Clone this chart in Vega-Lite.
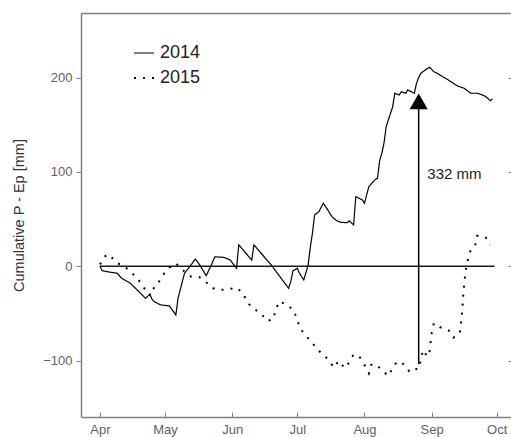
{
  "$schema": "https://vega.github.io/schema/vega-lite/v6.json",
  "width": 430,
  "height": 404,
  "autosize": "none",
  "padding": {"left": 81, "top": 13, "right": 0, "bottom": 20},
  "background": "white",
  "config": {
    "view": {"stroke": null},
    "font": "Liberation Sans",
    "axis": {"grid": false, "labelFont": "Liberation Sans", "titleFont": "Liberation Sans", "domainColor": "#808080", "domainWidth": 1.5, "tickColor": "#808080", "labelColor": "#5f5f5f", "labelFontSize": 13}
  },
  "datasets": {
    "series": [
      {"year": "2014", "date": "2014-04-01", "v": 0},
      {"year": "2014", "date": "2014-04-02", "v": -4.7},
      {"year": "2014", "date": "2014-04-06", "v": -6.4},
      {"year": "2014", "date": "2014-04-09", "v": -7.4},
      {"year": "2014", "date": "2014-04-11", "v": -12.7},
      {"year": "2014", "date": "2014-04-15", "v": -18},
      {"year": "2014", "date": "2014-04-19", "v": -27},
      {"year": "2014", "date": "2014-04-22", "v": -34},
      {"year": "2014", "date": "2014-04-24", "v": -29.7},
      {"year": "2014", "date": "2014-04-25", "v": -35},
      {"year": "2014", "date": "2014-04-26", "v": -37.5},
      {"year": "2014", "date": "2014-04-29", "v": -41},
      {"year": "2014", "date": "2014-05-03", "v": -42},
      {"year": "2014", "date": "2014-05-06", "v": -51.6},
      {"year": "2014", "date": "2014-05-07", "v": -34},
      {"year": "2014", "date": "2014-05-08", "v": -25},
      {"year": "2014", "date": "2014-05-10", "v": -7.4},
      {"year": "2014", "date": "2014-05-13", "v": 1.4},
      {"year": "2014", "date": "2014-05-15", "v": 7.7},
      {"year": "2014", "date": "2014-05-17", "v": 1.4},
      {"year": "2014", "date": "2014-05-20", "v": -10},
      {"year": "2014", "date": "2014-05-22", "v": -0.4},
      {"year": "2014", "date": "2014-05-24", "v": 10},
      {"year": "2014", "date": "2014-05-28", "v": 9.5},
      {"year": "2014", "date": "2014-05-31", "v": 6.7},
      {"year": "2014", "date": "2014-06-03", "v": -2.1},
      {"year": "2014", "date": "2014-06-04", "v": 22.6},
      {"year": "2014", "date": "2014-06-08", "v": 12},
      {"year": "2014", "date": "2014-06-10", "v": 6.5},
      {"year": "2014", "date": "2014-06-11", "v": 22.6},
      {"year": "2014", "date": "2014-06-15", "v": 12},
      {"year": "2014", "date": "2014-06-19", "v": 1.4},
      {"year": "2014", "date": "2014-06-23", "v": -11},
      {"year": "2014", "date": "2014-06-27", "v": -23.3},
      {"year": "2014", "date": "2014-06-28", "v": -16.3},
      {"year": "2014", "date": "2014-06-29", "v": -5},
      {"year": "2014", "date": "2014-07-01", "v": -2.1},
      {"year": "2014", "date": "2014-07-02", "v": -7.4},
      {"year": "2014", "date": "2014-07-04", "v": -14.5},
      {"year": "2014", "date": "2014-07-06", "v": 1},
      {"year": "2014", "date": "2014-07-07", "v": 20},
      {"year": "2014", "date": "2014-07-08", "v": 35},
      {"year": "2014", "date": "2014-07-09", "v": 54.4},
      {"year": "2014", "date": "2014-07-11", "v": 58},
      {"year": "2014", "date": "2014-07-13", "v": 66.8},
      {"year": "2014", "date": "2014-07-15", "v": 60},
      {"year": "2014", "date": "2014-07-17", "v": 52.6},
      {"year": "2014", "date": "2014-07-19", "v": 48.5},
      {"year": "2014", "date": "2014-07-21", "v": 46.6},
      {"year": "2014", "date": "2014-07-24", "v": 46.2},
      {"year": "2014", "date": "2014-07-25", "v": 48},
      {"year": "2014", "date": "2014-07-27", "v": 43.8},
      {"year": "2014", "date": "2014-07-28", "v": 73.8},
      {"year": "2014", "date": "2014-07-30", "v": 71.5},
      {"year": "2014", "date": "2014-07-31", "v": 70.3},
      {"year": "2014", "date": "2014-08-01", "v": 66.8},
      {"year": "2014", "date": "2014-08-03", "v": 84.4},
      {"year": "2014", "date": "2014-08-05", "v": 89.7},
      {"year": "2014", "date": "2014-08-06", "v": 92},
      {"year": "2014", "date": "2014-08-07", "v": 93.3},
      {"year": "2014", "date": "2014-08-08", "v": 112},
      {"year": "2014", "date": "2014-08-09", "v": 119.8},
      {"year": "2014", "date": "2014-08-10", "v": 130.4},
      {"year": "2014", "date": "2014-08-11", "v": 148},
      {"year": "2014", "date": "2014-08-12", "v": 155},
      {"year": "2014", "date": "2014-08-14", "v": 169},
      {"year": "2014", "date": "2014-08-15", "v": 183.4},
      {"year": "2014", "date": "2014-08-17", "v": 181.6},
      {"year": "2014", "date": "2014-08-18", "v": 185},
      {"year": "2014", "date": "2014-08-20", "v": 183.4},
      {"year": "2014", "date": "2014-08-21", "v": 187},
      {"year": "2014", "date": "2014-08-23", "v": 184.5},
      {"year": "2014", "date": "2014-08-24", "v": 183.4},
      {"year": "2014", "date": "2014-08-25", "v": 194},
      {"year": "2014", "date": "2014-08-26", "v": 200},
      {"year": "2014", "date": "2014-08-27", "v": 204.6},
      {"year": "2014", "date": "2014-08-29", "v": 208},
      {"year": "2014", "date": "2014-08-31", "v": 211},
      {"year": "2014", "date": "2014-09-02", "v": 206.3},
      {"year": "2014", "date": "2014-09-04", "v": 204},
      {"year": "2014", "date": "2014-09-06", "v": 201},
      {"year": "2014", "date": "2014-09-09", "v": 197},
      {"year": "2014", "date": "2014-09-11", "v": 194},
      {"year": "2014", "date": "2014-09-13", "v": 191},
      {"year": "2014", "date": "2014-09-16", "v": 188.7},
      {"year": "2014", "date": "2014-09-19", "v": 183.4},
      {"year": "2014", "date": "2014-09-22", "v": 183.4},
      {"year": "2014", "date": "2014-09-24", "v": 182},
      {"year": "2014", "date": "2014-09-26", "v": 179.8},
      {"year": "2014", "date": "2014-09-28", "v": 175.6},
      {"year": "2014", "date": "2014-09-29", "v": 177.4},
      {"year": "2015", "date": "2015-04-01", "v": 2},
      {"year": "2015", "date": "2015-04-03", "v": 10},
      {"year": "2015", "date": "2015-04-05", "v": 12.7},
      {"year": "2015", "date": "2015-04-09", "v": 3.2},
      {"year": "2015", "date": "2015-04-12", "v": 0.6},
      {"year": "2015", "date": "2015-04-15", "v": -5.7},
      {"year": "2015", "date": "2015-04-18", "v": -12},
      {"year": "2015", "date": "2015-04-21", "v": -21.6},
      {"year": "2015", "date": "2015-04-23", "v": -29.7},
      {"year": "2015", "date": "2015-04-25", "v": -30.4},
      {"year": "2015", "date": "2015-04-26", "v": -21.6},
      {"year": "2015", "date": "2015-04-28", "v": -17.4},
      {"year": "2015", "date": "2015-04-30", "v": -9.2},
      {"year": "2015", "date": "2015-05-03", "v": -1.5},
      {"year": "2015", "date": "2015-05-06", "v": 3.2},
      {"year": "2015", "date": "2015-05-10", "v": -5.7},
      {"year": "2015", "date": "2015-05-13", "v": -11},
      {"year": "2015", "date": "2015-05-17", "v": -11.7},
      {"year": "2015", "date": "2015-05-20", "v": -17},
      {"year": "2015", "date": "2015-05-23", "v": -23.3},
      {"year": "2015", "date": "2015-05-27", "v": -25},
      {"year": "2015", "date": "2015-05-30", "v": -24.4},
      {"year": "2015", "date": "2015-06-03", "v": -22.7},
      {"year": "2015", "date": "2015-06-06", "v": -28.6},
      {"year": "2015", "date": "2015-06-08", "v": -38.6},
      {"year": "2015", "date": "2015-06-11", "v": -45.3},
      {"year": "2015", "date": "2015-06-14", "v": -49.2},
      {"year": "2015", "date": "2015-06-17", "v": -58},
      {"year": "2015", "date": "2015-06-20", "v": -56.2},
      {"year": "2015", "date": "2015-06-21", "v": -45.6},
      {"year": "2015", "date": "2015-06-23", "v": -36.8},
      {"year": "2015", "date": "2015-06-26", "v": -41.3},
      {"year": "2015", "date": "2015-06-29", "v": -45.6},
      {"year": "2015", "date": "2015-07-01", "v": -55.9},
      {"year": "2015", "date": "2015-07-02", "v": -64.7},
      {"year": "2015", "date": "2015-07-05", "v": -73.9},
      {"year": "2015", "date": "2015-07-08", "v": -81},
      {"year": "2015", "date": "2015-07-10", "v": -88},
      {"year": "2015", "date": "2015-07-13", "v": -93.3},
      {"year": "2015", "date": "2015-07-15", "v": -98.6},
      {"year": "2015", "date": "2015-07-18", "v": -107.5},
      {"year": "2015", "date": "2015-07-19", "v": -103.9},
      {"year": "2015", "date": "2015-07-20", "v": -100.4},
      {"year": "2015", "date": "2015-07-23", "v": -108},
      {"year": "2015", "date": "2015-07-25", "v": -101.8},
      {"year": "2015", "date": "2015-07-27", "v": -93.3},
      {"year": "2015", "date": "2015-07-30", "v": -96.9},
      {"year": "2015", "date": "2015-08-01", "v": -104.6},
      {"year": "2015", "date": "2015-08-03", "v": -113.4},
      {"year": "2015", "date": "2015-08-04", "v": -104.6},
      {"year": "2015", "date": "2015-08-06", "v": -103.6},
      {"year": "2015", "date": "2015-08-09", "v": -110},
      {"year": "2015", "date": "2015-08-12", "v": -116.3},
      {"year": "2015", "date": "2015-08-14", "v": -108},
      {"year": "2015", "date": "2015-08-16", "v": -101},
      {"year": "2015", "date": "2015-08-19", "v": -103.6},
      {"year": "2015", "date": "2015-08-22", "v": -112.4},
      {"year": "2015", "date": "2015-08-25", "v": -108.9},
      {"year": "2015", "date": "2015-08-26", "v": -108.9},
      {"year": "2015", "date": "2015-08-27", "v": -99.3},
      {"year": "2015", "date": "2015-08-28", "v": -88.7},
      {"year": "2015", "date": "2015-08-30", "v": -95.8},
      {"year": "2015", "date": "2015-08-31", "v": -90.5},
      {"year": "2015", "date": "2015-09-01", "v": -71},
      {"year": "2015", "date": "2015-09-02", "v": -60.4},
      {"year": "2015", "date": "2015-09-05", "v": -64.7},
      {"year": "2015", "date": "2015-09-09", "v": -68.3},
      {"year": "2015", "date": "2015-09-11", "v": -75.7},
      {"year": "2015", "date": "2015-09-14", "v": -71},
      {"year": "2015", "date": "2015-09-15", "v": -49},
      {"year": "2015", "date": "2015-09-16", "v": -18},
      {"year": "2015", "date": "2015-09-17", "v": 0.6},
      {"year": "2015", "date": "2015-09-18", "v": 10.2},
      {"year": "2015", "date": "2015-09-19", "v": 17.3},
      {"year": "2015", "date": "2015-09-21", "v": 21.5},
      {"year": "2015", "date": "2015-09-22", "v": 32.4},
      {"year": "2015", "date": "2015-09-26", "v": 30.3},
      {"year": "2015", "date": "2015-09-28", "v": 22.6}
    ],
    "zero": [{"start": "2014-04-01", "end": "2014-09-30", "v": 0}],
    "arrow": [{"date": "2015-08-26", "low": -104, "high": 170, "tip": 174.7, "label": "332 mm", "labelDate": "2015-08-30", "labelV": 98}]
  },
  "layer": [
    {
      "data": {"name": "zero"},
      "mark": {"type": "rule", "color": "#1a1a1a", "strokeWidth": 1.3},
      "encoding": {
        "x": {
          "field": "start", "type": "temporal", "timeUnit": "utcmonthdate",
          "scale": {"domain": [{"year": 2012, "month": 3, "date": 23, "hours": 6, "utc": true}, {"year": 2012, "month": 10, "date": 7, "hours": 14, "utc": true}]},
          "axis": {
            "orient": "bottom", "title": null,
            "labelExpr": "utcFormat(datum.value, '%b')",
            "values": [
              {"year": 2012, "month": 4, "date": 1, "utc": true},
              {"year": 2012, "month": 5, "date": 1, "utc": true},
              {"year": 2012, "month": 6, "date": 1, "utc": true},
              {"year": 2012, "month": 7, "date": 1, "utc": true},
              {"year": 2012, "month": 8, "date": 1, "utc": true},
              {"year": 2012, "month": 9, "date": 1, "utc": true},
              {"year": 2012, "month": 10, "date": 1, "utc": true}
            ],
            "tickSize": -5, "labelPadding": 11, "labelFlush": false, "labelOverlap": false
          }
        },
        "x2": {"field": "end", "timeUnit": "utcmonthdate"},
        "y": {
          "field": "v", "type": "quantitative",
          "scale": {"domain": [-159.8, 268.5], "nice": false, "zero": false},
          "axis": {
            "orient": "left", "title": "Cumulative P - Ep [mm]", "values": [-100, 0, 100, 200],
            "tickSize": 5, "labelPadding": 4, "titleFontSize": 14.5, "titleFontWeight": "normal", "titleColor": "#333333", "titlePadding": 16, "labelFlush": false
          }
        }
      }
    },
    {
      "data": {"name": "series"},
      "mark": {"type": "line", "color": "black"},
      "encoding": {
        "x": {"field": "date", "type": "temporal", "timeUnit": "utcmonthdate", "axis": null},
        "y": {"field": "v", "type": "quantitative", "axis": null},
        "strokeDash": {
          "field": "year", "type": "nominal",
          "scale": {"domain": ["2014", "2015"], "range": [[1, 0], [2, 7]]},
          "legend": {
            "orient": "none", "legendX": 52, "legendY": 29, "title": null, "padding": 0,
            "symbolType": "stroke", "symbolSize": 400, "symbolStrokeWidth": 2.2, "symbolStrokeColor": "black",
            "labelFontSize": 18, "labelColor": "#222222", "labelFont": "Liberation Sans", "labelOffset": 5, "rowPadding": 5,
            "symbolDashOffset": 0,
            "encode": {"symbols": {"update": {"strokeWidth": {"value": 2.2}}}}
          }
        },
        "strokeWidth": {
          "field": "year", "type": "nominal",
          "scale": {"domain": ["2014", "2015"], "range": [1.2, 2]},
          "legend": null
        }
      }
    },
    {
      "data": {"name": "arrow"},
      "mark": {"type": "rule", "color": "black", "strokeWidth": 1.5},
      "encoding": {
        "x": {"field": "date", "type": "temporal", "timeUnit": "utcmonthdate", "axis": {"orient": "top", "labels": false, "ticks": false, "domain": true, "title": null}},
        "y": {"field": "low", "type": "quantitative", "axis": {"orient": "right", "labels": false, "domain": false, "ticks": true, "tickSize": -3, "values": [-100, 0, 100, 200], "title": null}},
        "y2": {"field": "high"}
      }
    },
    {
      "data": {"name": "arrow"},
      "mark": {"type": "point", "shape": "triangle-up", "filled": true, "color": "black", "size": 330, "opacity": 1},
      "encoding": {
        "x": {"field": "date", "type": "temporal", "timeUnit": "utcmonthdate", "axis": null},
        "y": {"field": "tip", "type": "quantitative", "axis": null}
      }
    },
    {
      "data": {"name": "arrow"},
      "mark": {"type": "text", "align": "left", "baseline": "middle", "fontSize": 15, "color": "#222222", "font": "Liberation Sans"},
      "encoding": {
        "x": {"field": "labelDate", "type": "temporal", "timeUnit": "utcmonthdate", "axis": null},
        "y": {"field": "labelV", "type": "quantitative", "axis": null},
        "text": {"field": "label"}
      }
    }
  ],
  "resolve": {"axis": {"x": "independent", "y": "independent"}}
}
